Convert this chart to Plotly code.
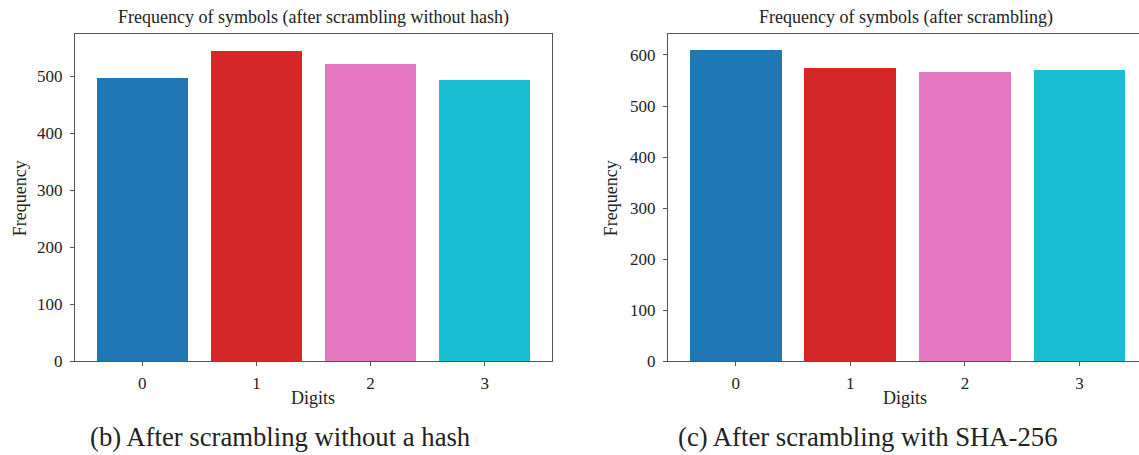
import plotly.graph_objects as go

digits = ["0", "1", "2", "3"]
freq_no_hash = [497, 545, 522, 493]
freq_sha256 = [610, 575, 567, 570]
colors = ["#1f77b4", "#d62728", "#e377c2", "#17becf"]
title_left = "Frequency of symbols (after scrambling without hash)"
title_right = "Frequency of symbols (after scrambling)"
caption_left = "(b) After scrambling without a hash"
caption_right = "(c) After scrambling with SHA-256"

W, H = 1139, 455
FONT = "Liberation Serif, Times New Roman, Times, serif"
AXC = "#555555"
KY = 0.977  # observed vertical scale of rendered output

fig = go.Figure()
xs = [0, 1, 2, 3]
fig.add_trace(go.Bar(x=xs, y=freq_no_hash, marker=dict(color=colors, line=dict(width=0)),
                     width=0.8, xaxis="x", yaxis="y", showlegend=False))
fig.add_trace(go.Bar(x=xs, y=freq_sha256, marker=dict(color=colors, line=dict(width=0)),
                     width=0.8, xaxis="x2", yaxis="y2", showlegend=False))

def px_x(p):
    return p / W

def px_y(p):
    return 1 - (p / KY) / H

ax_common = dict(showgrid=False, zeroline=False, showline=True, linecolor=AXC, linewidth=1.2,
                 ticks="outside", ticklen=4, tickcolor=AXC, tickwidth=1,
                 tickfont=dict(family=FONT, size=17, color="#222222"))

fig.update_layout(
    width=W, height=H, autosize=False, margin=dict(l=0, r=0, t=0, b=0, pad=0),
    font=dict(family=FONT),
    plot_bgcolor="white", paper_bgcolor="white", bargap=0,
    xaxis=dict(domain=[px_x(75), px_x(552)], range=[-0.59, 3.59], tickvals=xs, ticktext=digits,
               mirror=True, anchor="y", ticklabelstandoff=2, **ax_common),
    yaxis=dict(domain=[px_y(361), px_y(34)], range=[0, 574], tickvals=[0, 100, 200, 300, 400, 500],
               mirror=True, anchor="x", ticklabelstandoff=4, **ax_common),
    xaxis2=dict(domain=[px_x(668), 1.0], range=[-0.59, 3.518], tickvals=xs, ticktext=digits,
                mirror=True, anchor="y2", ticklabelstandoff=2, **ax_common),
    yaxis2=dict(domain=[px_y(361), px_y(34)], range=[0, 641], tickvals=[0, 100, 200, 300, 400, 500, 600],
                mirror=False, anchor="x2", ticklabelstandoff=4, **ax_common),
)

def ann(text, x, y, size, angle=0):
    fig.add_annotation(text=text, x=px_x(x), y=px_y(y), xref="paper", yref="paper",
                       showarrow=False, xanchor="center", yanchor="middle", textangle=angle,
                       font=dict(family=FONT, size=size, color="#222222"))

ann(title_left, 313, 17, 18)
ann(title_right, 906, 17, 18)
ann("Frequency", 20, 198, 18, -90)
ann("Frequency", 611, 198, 18, -90)
ann("Digits", 313, 398, 18)
ann("Digits", 905, 398, 18)
ann(caption_left, 280, 437, 26.7)
ann(caption_right, 867, 437, 26.7)

fig.write_html("out.html")
